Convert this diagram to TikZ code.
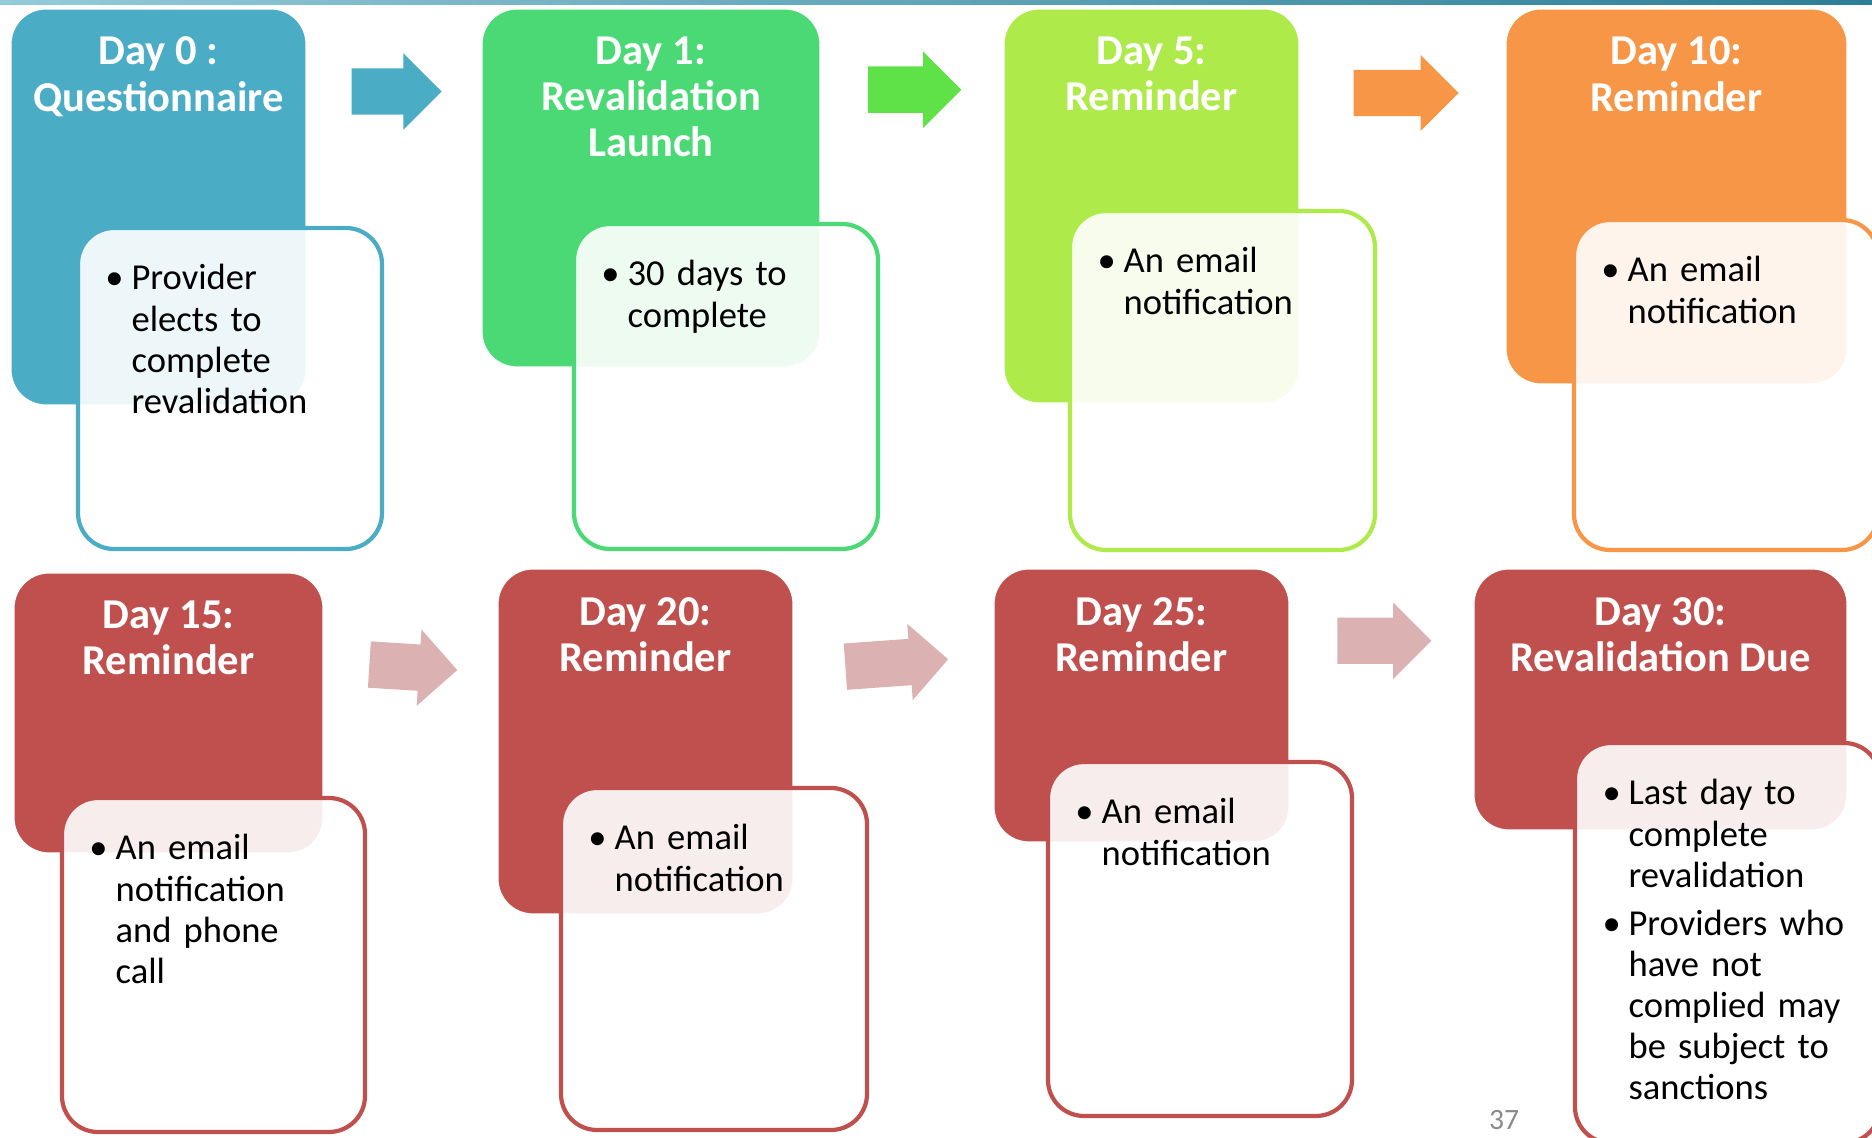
\documentclass[tikz,border=0pt]{standalone}
\usepackage{fontspec}
\setmainfont{Carlito}
\usepackage{tikz}
\usetikzlibrary{positioning,shapes.arrows}
\definecolor{topl}{HTML}{93CBDA}
\definecolor{topr}{HTML}{2C7E95}
\definecolor{dayblue}{HTML}{4BACC6}
\definecolor{daygreen}{HTML}{4AD975}
\definecolor{daylime}{HTML}{AEEA4A}
\definecolor{dayorange}{HTML}{F79646}
\definecolor{dayred}{HTML}{C0504D}
\definecolor{arrgreen}{HTML}{5FE247}
\definecolor{arrpink}{HTML}{DBB1B1}
\definecolor{pagegray}{HTML}{8A8A8A}
\newcommand{\bitem}[1]{\makebox[0.23cm][l]{\makebox[0.12cm]{\textbullet}}\parbox[t]{2.5cm}{\raggedright #1}}
\tikzset{
  daybox/.style={draw=white, line width=0.9pt, rounded corners=0.36cm, inner sep=0pt},
  notebox/.style={fill=white, fill opacity=0.9, line width=1.2pt, rounded corners=0.36cm, inner sep=0pt},
  ttl/.style={font=\fontsize{12.1}{13.1}\selectfont\bfseries, text=white, align=center, inner sep=0pt},
  txt/.style={font=\fontsize{10.4}{11.7}\selectfont, text width=2.8cm, align=left, inner sep=0pt},
  blkarr/.style={single arrow, single arrow head extend=0.15cm, minimum width=0.75cm,
                 inner xsep=0pt, inner ysep=0.225cm, anchor=tail},
  pgnum/.style={font=\fontsize{8.4}{10}\selectfont, text=pagegray, inner sep=0pt},
}

\begin{document}
\begin{tikzpicture}
  \useasboundingbox (0,0) rectangle (18.72,-11.38);
  \clip (0,0) rectangle (18.72,-11.38);
  \fill[white] (0,0) rectangle (18.72,-11.38);
  \shade[left color=topl, right color=topr] (0,0) rectangle (18.72,-0.05);
  % coloured day cards
  \foreach \n/\x/\y/\w/\h/\c in {d0/1.585/-2.07/2.97/3.98/dayblue, d1/6.51/-1.88/3.40/3.60/daygreen,
                                 d5/11.515/-2.06/2.97/3.96/daylime, d10/16.765/-1.965/3.43/3.77/dayorange,
                                 d15/1.685/-7.13/3.11/2.82/dayred, d20/6.455/-7.415/2.97/3.47/dayred,
                                 d25/11.415/-7.055/2.97/2.75/dayred, d30/16.605/-6.995/3.75/2.63/dayred}
    \node[daybox, fill=\c, minimum width=\w cm, minimum height=\h cm] (\n) at (\x,\y) {};
  % note cards
  \foreach \n/\x/\y/\w/\h/\c in {n0/2.30/-3.885/3.04/3.21/dayblue, n1/7.26/-3.865/3.04/3.25/daygreen,
                                 n5/12.225/-3.805/3.05/3.39/daylime, n10/17.26/-3.85/3.04/3.30/dayorange,
                                 n15/2.135/-9.65/3.03/3.34/dayred, n20/7.14/-9.59/3.06/3.42/dayred,
                                 n25/12.00/-9.39/3.04/3.54/dayred, n30/17.275/-9.43/3.05/4.00/dayred}
    \node[notebox, draw=\c, minimum width=\w cm, minimum height=\h cm] (\n) at (\x,\y) {};
  % arrows
  \node[blkarr, fill=dayblue, minimum height=0.90cm] (a1) at (3.51,-0.915) {};
  \node[blkarr, fill=arrgreen, minimum height=0.934cm] (a2) at (8.673,-0.897) {};
  \node[blkarr, fill=dayorange, minimum height=1.05cm] (a3) at (13.53,-0.93) {};
  \node[blkarr, fill=arrpink, minimum height=0.88cm, rotate=-3.6] (a4) at (3.687,-6.645) {};
  \node[blkarr, fill=arrpink, minimum height=1.03cm, rotate=4.1] (a5) at (8.447,-6.667) {};
  \node[blkarr, fill=arrpink, minimum height=0.94cm] (a6) at (13.367,-6.408) {};
  % titles
  \node[ttl, below=0.30cm of d0.north] (t0) {Day 0 :\\Questionnaire};
  \node[ttl, below=0.30cm of d1.north] (t1) {Day 1:\\Revalidation\\Launch};
  \node[ttl, below=0.30cm of d5.north] (t5) {Day 5:\\Reminder};
  \node[ttl, below=0.30cm of d10.north] (t10) {Day 10:\\Reminder};
  \node[ttl, below=0.30cm of d15.north] (t15) {Day 15:\\Reminder};
  \node[ttl, below=0.30cm of d20.north] (t20) {Day 20:\\Reminder};
  \node[ttl, below=0.30cm of d25.north] (t25) {Day 25:\\Reminder};
  \node[ttl, below=0.30cm of d30.north] (t30) {Day 30:\\Revalidation Due};
  % bullet texts
  \node[txt, below right=0.38cm and 0.32cm of n0.north west] (b0) {\bitem{Provider\\elects to\\complete\\revalidation}};
  \node[txt, below right=0.38cm and 0.32cm of n1.north west] (b1) {\bitem{30 days to\\complete}};
  \node[txt, below right=0.38cm and 0.32cm of n5.north west] (b5) {\bitem{An email\\notification}};
  \node[txt, below right=0.38cm and 0.32cm of n10.north west] (b10) {\bitem{An email\\notification}};
  \node[txt, below right=0.38cm and 0.32cm of n15.north west] (b15) {\bitem{An email\\notification\\and phone\\call}};
  \node[txt, below right=0.38cm and 0.32cm of n20.north west] (b20) {\bitem{An email\\notification}};
  \node[txt, below right=0.38cm and 0.32cm of n25.north west] (b25) {\bitem{An email\\notification}};
  \node[txt, below right=0.38cm and 0.32cm of n30.north west] (b30) {\bitem{Last day to\\complete\\revalidation}\par\vspace{5.4pt}
    \bitem{Providers who\\have not\\complied may\\be subject to\\sanctions}};
  \node[pgnum] (pg) at (15.04,-11.20) {37};
\end{tikzpicture}
\end{document}
